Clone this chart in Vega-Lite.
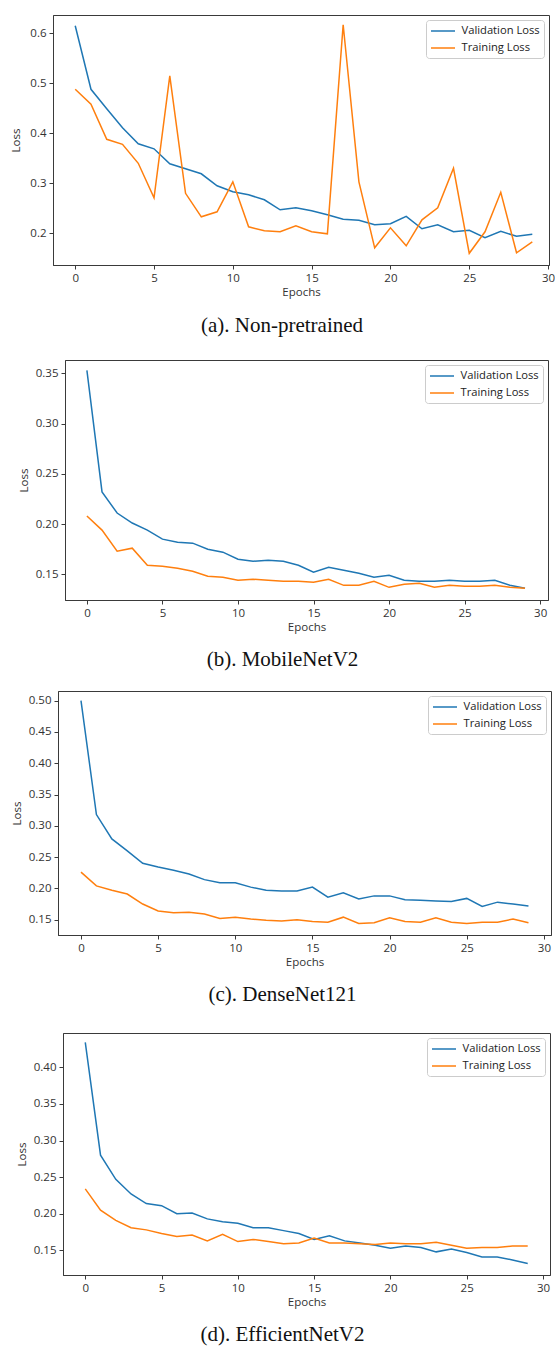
{
  "$schema": "https://vega.github.io/schema/vega-lite/v6.json",
  "padding": {"left": 0, "top": 14, "right": 0, "bottom": 0},
  "background": "white",
  "config": {
    "font": "Open Sans",
    "view": {"stroke": "#3a3a3a", "strokeWidth": 1},
    "axis": {"grid": false, "labelFlush": false, "domainColor": "#3a3a3a", "tickColor": "#3a3a3a", "tickSize": 4, "labelPadding": 3, "labelFont": "Open Sans", "labelFontSize": 11.5, "labelColor": "#333", "titleFont": "Open Sans", "titleFontSize": 11.5, "titleFontWeight": "normal", "titleColor": "#333"},
    "axisX": {"titlePadding": 3},
    "axisY": {"titlePadding": 5},
    "legend": {"orient": "top-right", "offset": 5, "padding": 4, "strokeColor": "#cccccc", "fillColor": "rgba(255,255,255,0.8)", "cornerRadius": 3, "symbolType": "M-1,0L3,0", "symbolSize": 144, "symbolStrokeWidth": 2, "labelFont": "Open Sans", "labelFontSize": 11.2, "labelColor": "#222", "labelOffset": 17.5, "rowPadding": 4},
    "title": {"font": "Liberation Serif", "fontSize": 21, "fontWeight": "normal", "color": "#111", "orient": "bottom", "anchor": "middle", "offset": 16},
    "line": {"strokeWidth": 1.5, "clip": true}
  },
  "datasets": {
    "a": [
      {"epoch":0,"series":"Validation Loss","loss":0.615},{"epoch":1,"series":"Validation Loss","loss":0.488},{"epoch":2,"series":"Validation Loss","loss":0.449},{"epoch":3,"series":"Validation Loss","loss":0.411},{"epoch":4,"series":"Validation Loss","loss":0.379},{"epoch":5,"series":"Validation Loss","loss":0.369},{"epoch":6,"series":"Validation Loss","loss":0.339},{"epoch":7,"series":"Validation Loss","loss":0.329},{"epoch":8,"series":"Validation Loss","loss":0.319},{"epoch":9,"series":"Validation Loss","loss":0.295},{"epoch":10,"series":"Validation Loss","loss":0.283},{"epoch":11,"series":"Validation Loss","loss":0.277},{"epoch":12,"series":"Validation Loss","loss":0.267},{"epoch":13,"series":"Validation Loss","loss":0.247},{"epoch":14,"series":"Validation Loss","loss":0.251},{"epoch":15,"series":"Validation Loss","loss":0.245},{"epoch":16,"series":"Validation Loss","loss":0.237},{"epoch":17,"series":"Validation Loss","loss":0.228},{"epoch":18,"series":"Validation Loss","loss":0.226},{"epoch":19,"series":"Validation Loss","loss":0.217},{"epoch":20,"series":"Validation Loss","loss":0.219},{"epoch":21,"series":"Validation Loss","loss":0.234},{"epoch":22,"series":"Validation Loss","loss":0.209},{"epoch":23,"series":"Validation Loss","loss":0.217},{"epoch":24,"series":"Validation Loss","loss":0.203},{"epoch":25,"series":"Validation Loss","loss":0.206},{"epoch":26,"series":"Validation Loss","loss":0.191},{"epoch":27,"series":"Validation Loss","loss":0.204},{"epoch":28,"series":"Validation Loss","loss":0.194},{"epoch":29,"series":"Validation Loss","loss":0.198},
      {"epoch":0,"series":"Training Loss","loss":0.488},{"epoch":1,"series":"Training Loss","loss":0.458},{"epoch":2,"series":"Training Loss","loss":0.388},{"epoch":3,"series":"Training Loss","loss":0.378},{"epoch":4,"series":"Training Loss","loss":0.34},{"epoch":5,"series":"Training Loss","loss":0.271},{"epoch":6,"series":"Training Loss","loss":0.515},{"epoch":7,"series":"Training Loss","loss":0.28},{"epoch":8,"series":"Training Loss","loss":0.233},{"epoch":9,"series":"Training Loss","loss":0.243},{"epoch":10,"series":"Training Loss","loss":0.303},{"epoch":11,"series":"Training Loss","loss":0.213},{"epoch":12,"series":"Training Loss","loss":0.205},{"epoch":13,"series":"Training Loss","loss":0.203},{"epoch":14,"series":"Training Loss","loss":0.215},{"epoch":15,"series":"Training Loss","loss":0.203},{"epoch":16,"series":"Training Loss","loss":0.199},{"epoch":17,"series":"Training Loss","loss":0.617},{"epoch":18,"series":"Training Loss","loss":0.303},{"epoch":19,"series":"Training Loss","loss":0.171},{"epoch":20,"series":"Training Loss","loss":0.211},{"epoch":21,"series":"Training Loss","loss":0.175},{"epoch":22,"series":"Training Loss","loss":0.227},{"epoch":23,"series":"Training Loss","loss":0.251},{"epoch":24,"series":"Training Loss","loss":0.33},{"epoch":25,"series":"Training Loss","loss":0.16},{"epoch":26,"series":"Training Loss","loss":0.203},{"epoch":27,"series":"Training Loss","loss":0.282},{"epoch":28,"series":"Training Loss","loss":0.161},{"epoch":29,"series":"Training Loss","loss":0.183}
    ],
    "b": [
      {"epoch":0,"series":"Validation Loss","loss":0.353},{"epoch":1,"series":"Validation Loss","loss":0.232},{"epoch":2,"series":"Validation Loss","loss":0.211},{"epoch":3,"series":"Validation Loss","loss":0.201},{"epoch":4,"series":"Validation Loss","loss":0.194},{"epoch":5,"series":"Validation Loss","loss":0.185},{"epoch":6,"series":"Validation Loss","loss":0.182},{"epoch":7,"series":"Validation Loss","loss":0.181},{"epoch":8,"series":"Validation Loss","loss":0.175},{"epoch":9,"series":"Validation Loss","loss":0.172},{"epoch":10,"series":"Validation Loss","loss":0.165},{"epoch":11,"series":"Validation Loss","loss":0.163},{"epoch":12,"series":"Validation Loss","loss":0.164},{"epoch":13,"series":"Validation Loss","loss":0.163},{"epoch":14,"series":"Validation Loss","loss":0.159},{"epoch":15,"series":"Validation Loss","loss":0.152},{"epoch":16,"series":"Validation Loss","loss":0.157},{"epoch":17,"series":"Validation Loss","loss":0.154},{"epoch":18,"series":"Validation Loss","loss":0.151},{"epoch":19,"series":"Validation Loss","loss":0.147},{"epoch":20,"series":"Validation Loss","loss":0.149},{"epoch":21,"series":"Validation Loss","loss":0.144},{"epoch":22,"series":"Validation Loss","loss":0.143},{"epoch":23,"series":"Validation Loss","loss":0.143},{"epoch":24,"series":"Validation Loss","loss":0.144},{"epoch":25,"series":"Validation Loss","loss":0.143},{"epoch":26,"series":"Validation Loss","loss":0.143},{"epoch":27,"series":"Validation Loss","loss":0.144},{"epoch":28,"series":"Validation Loss","loss":0.139},{"epoch":29,"series":"Validation Loss","loss":0.136},
      {"epoch":0,"series":"Training Loss","loss":0.208},{"epoch":1,"series":"Training Loss","loss":0.194},{"epoch":2,"series":"Training Loss","loss":0.173},{"epoch":3,"series":"Training Loss","loss":0.176},{"epoch":4,"series":"Training Loss","loss":0.159},{"epoch":5,"series":"Training Loss","loss":0.158},{"epoch":6,"series":"Training Loss","loss":0.156},{"epoch":7,"series":"Training Loss","loss":0.153},{"epoch":8,"series":"Training Loss","loss":0.148},{"epoch":9,"series":"Training Loss","loss":0.147},{"epoch":10,"series":"Training Loss","loss":0.144},{"epoch":11,"series":"Training Loss","loss":0.145},{"epoch":12,"series":"Training Loss","loss":0.144},{"epoch":13,"series":"Training Loss","loss":0.143},{"epoch":14,"series":"Training Loss","loss":0.143},{"epoch":15,"series":"Training Loss","loss":0.142},{"epoch":16,"series":"Training Loss","loss":0.145},{"epoch":17,"series":"Training Loss","loss":0.139},{"epoch":18,"series":"Training Loss","loss":0.139},{"epoch":19,"series":"Training Loss","loss":0.143},{"epoch":20,"series":"Training Loss","loss":0.137},{"epoch":21,"series":"Training Loss","loss":0.14},{"epoch":22,"series":"Training Loss","loss":0.141},{"epoch":23,"series":"Training Loss","loss":0.137},{"epoch":24,"series":"Training Loss","loss":0.139},{"epoch":25,"series":"Training Loss","loss":0.138},{"epoch":26,"series":"Training Loss","loss":0.138},{"epoch":27,"series":"Training Loss","loss":0.139},{"epoch":28,"series":"Training Loss","loss":0.137},{"epoch":29,"series":"Training Loss","loss":0.136}
    ],
    "c": [
      {"epoch":0,"series":"Validation Loss","loss":0.5},{"epoch":1,"series":"Validation Loss","loss":0.318},{"epoch":2,"series":"Validation Loss","loss":0.279},{"epoch":3,"series":"Validation Loss","loss":0.26},{"epoch":4,"series":"Validation Loss","loss":0.24},{"epoch":5,"series":"Validation Loss","loss":0.234},{"epoch":6,"series":"Validation Loss","loss":0.229},{"epoch":7,"series":"Validation Loss","loss":0.223},{"epoch":8,"series":"Validation Loss","loss":0.214},{"epoch":9,"series":"Validation Loss","loss":0.209},{"epoch":10,"series":"Validation Loss","loss":0.209},{"epoch":11,"series":"Validation Loss","loss":0.202},{"epoch":12,"series":"Validation Loss","loss":0.197},{"epoch":13,"series":"Validation Loss","loss":0.196},{"epoch":14,"series":"Validation Loss","loss":0.196},{"epoch":15,"series":"Validation Loss","loss":0.202},{"epoch":16,"series":"Validation Loss","loss":0.186},{"epoch":17,"series":"Validation Loss","loss":0.193},{"epoch":18,"series":"Validation Loss","loss":0.183},{"epoch":19,"series":"Validation Loss","loss":0.188},{"epoch":20,"series":"Validation Loss","loss":0.188},{"epoch":21,"series":"Validation Loss","loss":0.182},{"epoch":22,"series":"Validation Loss","loss":0.181},{"epoch":23,"series":"Validation Loss","loss":0.18},{"epoch":24,"series":"Validation Loss","loss":0.179},{"epoch":25,"series":"Validation Loss","loss":0.184},{"epoch":26,"series":"Validation Loss","loss":0.171},{"epoch":27,"series":"Validation Loss","loss":0.178},{"epoch":28,"series":"Validation Loss","loss":0.175},{"epoch":29,"series":"Validation Loss","loss":0.172},
      {"epoch":0,"series":"Training Loss","loss":0.226},{"epoch":1,"series":"Training Loss","loss":0.204},{"epoch":2,"series":"Training Loss","loss":0.197},{"epoch":3,"series":"Training Loss","loss":0.191},{"epoch":4,"series":"Training Loss","loss":0.175},{"epoch":5,"series":"Training Loss","loss":0.164},{"epoch":6,"series":"Training Loss","loss":0.161},{"epoch":7,"series":"Training Loss","loss":0.162},{"epoch":8,"series":"Training Loss","loss":0.159},{"epoch":9,"series":"Training Loss","loss":0.152},{"epoch":10,"series":"Training Loss","loss":0.154},{"epoch":11,"series":"Training Loss","loss":0.151},{"epoch":12,"series":"Training Loss","loss":0.149},{"epoch":13,"series":"Training Loss","loss":0.148},{"epoch":14,"series":"Training Loss","loss":0.15},{"epoch":15,"series":"Training Loss","loss":0.147},{"epoch":16,"series":"Training Loss","loss":0.146},{"epoch":17,"series":"Training Loss","loss":0.154},{"epoch":18,"series":"Training Loss","loss":0.144},{"epoch":19,"series":"Training Loss","loss":0.145},{"epoch":20,"series":"Training Loss","loss":0.153},{"epoch":21,"series":"Training Loss","loss":0.147},{"epoch":22,"series":"Training Loss","loss":0.146},{"epoch":23,"series":"Training Loss","loss":0.153},{"epoch":24,"series":"Training Loss","loss":0.146},{"epoch":25,"series":"Training Loss","loss":0.144},{"epoch":26,"series":"Training Loss","loss":0.146},{"epoch":27,"series":"Training Loss","loss":0.146},{"epoch":28,"series":"Training Loss","loss":0.151},{"epoch":29,"series":"Training Loss","loss":0.145}
    ],
    "d": [
      {"epoch":0,"series":"Validation Loss","loss":0.434},{"epoch":1,"series":"Validation Loss","loss":0.28},{"epoch":2,"series":"Validation Loss","loss":0.247},{"epoch":3,"series":"Validation Loss","loss":0.227},{"epoch":4,"series":"Validation Loss","loss":0.214},{"epoch":5,"series":"Validation Loss","loss":0.211},{"epoch":6,"series":"Validation Loss","loss":0.2},{"epoch":7,"series":"Validation Loss","loss":0.201},{"epoch":8,"series":"Validation Loss","loss":0.193},{"epoch":9,"series":"Validation Loss","loss":0.189},{"epoch":10,"series":"Validation Loss","loss":0.187},{"epoch":11,"series":"Validation Loss","loss":0.181},{"epoch":12,"series":"Validation Loss","loss":0.181},{"epoch":13,"series":"Validation Loss","loss":0.177},{"epoch":14,"series":"Validation Loss","loss":0.173},{"epoch":15,"series":"Validation Loss","loss":0.165},{"epoch":16,"series":"Validation Loss","loss":0.17},{"epoch":17,"series":"Validation Loss","loss":0.163},{"epoch":18,"series":"Validation Loss","loss":0.16},{"epoch":19,"series":"Validation Loss","loss":0.157},{"epoch":20,"series":"Validation Loss","loss":0.153},{"epoch":21,"series":"Validation Loss","loss":0.156},{"epoch":22,"series":"Validation Loss","loss":0.154},{"epoch":23,"series":"Validation Loss","loss":0.148},{"epoch":24,"series":"Validation Loss","loss":0.152},{"epoch":25,"series":"Validation Loss","loss":0.147},{"epoch":26,"series":"Validation Loss","loss":0.141},{"epoch":27,"series":"Validation Loss","loss":0.141},{"epoch":28,"series":"Validation Loss","loss":0.137},{"epoch":29,"series":"Validation Loss","loss":0.132},
      {"epoch":0,"series":"Training Loss","loss":0.234},{"epoch":1,"series":"Training Loss","loss":0.205},{"epoch":2,"series":"Training Loss","loss":0.191},{"epoch":3,"series":"Training Loss","loss":0.181},{"epoch":4,"series":"Training Loss","loss":0.178},{"epoch":5,"series":"Training Loss","loss":0.173},{"epoch":6,"series":"Training Loss","loss":0.169},{"epoch":7,"series":"Training Loss","loss":0.171},{"epoch":8,"series":"Training Loss","loss":0.163},{"epoch":9,"series":"Training Loss","loss":0.172},{"epoch":10,"series":"Training Loss","loss":0.162},{"epoch":11,"series":"Training Loss","loss":0.165},{"epoch":12,"series":"Training Loss","loss":0.162},{"epoch":13,"series":"Training Loss","loss":0.159},{"epoch":14,"series":"Training Loss","loss":0.16},{"epoch":15,"series":"Training Loss","loss":0.167},{"epoch":16,"series":"Training Loss","loss":0.16},{"epoch":17,"series":"Training Loss","loss":0.16},{"epoch":18,"series":"Training Loss","loss":0.159},{"epoch":19,"series":"Training Loss","loss":0.158},{"epoch":20,"series":"Training Loss","loss":0.16},{"epoch":21,"series":"Training Loss","loss":0.159},{"epoch":22,"series":"Training Loss","loss":0.159},{"epoch":23,"series":"Training Loss","loss":0.161},{"epoch":24,"series":"Training Loss","loss":0.157},{"epoch":25,"series":"Training Loss","loss":0.153},{"epoch":26,"series":"Training Loss","loss":0.154},{"epoch":27,"series":"Training Loss","loss":0.154},{"epoch":28,"series":"Training Loss","loss":0.156},{"epoch":29,"series":"Training Loss","loss":0.156}
    ]
  },
  "spacing": 22,
  "resolve": {"scale": {"color": "independent"}, "legend": {"color": "independent"}},
  "vconcat": [
    {
      "spacing": 0,
      "resolve": {"scale": {"color": "independent"}, "legend": {"color": "independent"}},
      "hconcat": [
        {"width": 9, "height": 10, "data": {"values": []}, "mark": {"type": "point", "opacity": 0}, "view": {"stroke": null}},
        {
          "width": 496, "height": 250,
          "data": {"name": "a"},
          "title": {"text": "(a). Non-pretrained", "offset": 17, "dx": -19},
          "mark": {"type": "line"},
          "encoding": {
            "x": {"field": "epoch", "type": "quantitative", "scale": {"domain": [-1.41, 30.06], "nice": false, "zero": false}, "axis": {"values": [0,5,10,15,20,25,30], "title": "Epochs"}},
            "y": {"field": "loss", "type": "quantitative", "scale": {"domain": [0.1366, 0.6366], "nice": false, "zero": false}, "axis": {"values": [0.2,0.3,0.4,0.5,0.6], "format": ".1f", "title": "Loss", "minExtent": 27, "maxExtent": 27}},
            "color": {"field": "series", "type": "nominal", "scale": {"domain": ["Validation Loss", "Training Loss"], "range": ["#1f77b4", "#ff7f0e"]}, "legend": {"title": null}}
          }
        }
      ]
    },
    {
      "spacing": 19,
      "resolve": {"scale": {"color": "independent"}, "legend": {"color": "independent"}},
      "vconcat": [
        {
          "spacing": 0,
          "resolve": {"scale": {"color": "independent"}, "legend": {"color": "independent"}},
          "hconcat": [
            {"width": 17, "height": 10, "data": {"values": []}, "mark": {"type": "point", "opacity": 0}, "view": {"stroke": null}},
            {
              "width": 483, "height": 240,
              "data": {"name": "b"},
              "title": {"text": "(b). MobileNetV2", "dx": -24},
              "mark": {"type": "line"},
              "encoding": {
                "x": {"field": "epoch", "type": "quantitative", "scale": {"domain": [-1.45, 30.52], "nice": false, "zero": false}, "axis": {"values": [0,5,10,15,20,25,30], "title": "Epochs"}},
                "y": {"field": "loss", "type": "quantitative", "scale": {"domain": [0.1244, 0.3633], "nice": false, "zero": false}, "axis": {"values": [0.15,0.2,0.25,0.3,0.35], "format": ".2f", "title": "Loss", "minExtent": 31, "maxExtent": 31}},
                "color": {"field": "series", "type": "nominal", "scale": {"domain": ["Validation Loss", "Training Loss"], "range": ["#1f77b4", "#ff7f0e"]}, "legend": {"title": null}}
              }
            }
          ]
        },
        {
          "spacing": 26,
          "resolve": {"scale": {"color": "independent"}, "legend": {"color": "independent"}},
          "vconcat": [
            {
              "spacing": 0,
              "resolve": {"scale": {"color": "independent"}, "legend": {"color": "independent"}},
              "hconcat": [
                {"width": 10, "height": 10, "data": {"values": []}, "mark": {"type": "point", "opacity": 0}, "view": {"stroke": null}},
                {
                  "width": 493, "height": 244,
                  "data": {"name": "c"},
                  "title": {"text": "(c). DenseNet121", "dx": -22},
                  "mark": {"type": "line"},
                  "encoding": {
                    "x": {"field": "epoch", "type": "quantitative", "scale": {"domain": [-1.49, 30.46], "nice": false, "zero": false}, "axis": {"values": [0,5,10,15,20,25,30], "title": "Epochs"}},
                    "y": {"field": "loss", "type": "quantitative", "scale": {"domain": [0.1255, 0.5154], "nice": false, "zero": false}, "axis": {"values": [0.15,0.2,0.25,0.3,0.35,0.4,0.45,0.5], "format": ".2f", "title": "Loss", "minExtent": 31, "maxExtent": 31}},
                    "color": {"field": "series", "type": "nominal", "scale": {"domain": ["Validation Loss", "Training Loss"], "range": ["#1f77b4", "#ff7f0e"]}, "legend": {"title": null}}
                  }
                }
              ]
            },
            {
              "spacing": 0,
              "resolve": {"scale": {"color": "independent"}, "legend": {"color": "independent"}},
              "hconcat": [
                {"width": 15, "height": 10, "data": {"values": []}, "mark": {"type": "point", "opacity": 0}, "view": {"stroke": null}},
                {
                  "width": 487, "height": 242,
                  "data": {"name": "d"},
                  "title": {"text": "(d). EfficientNetV2", "dx": -24},
                  "mark": {"type": "line"},
                  "encoding": {
                    "x": {"field": "epoch", "type": "quantitative", "scale": {"domain": [-1.46, 30.46], "nice": false, "zero": false}, "axis": {"values": [0,5,10,15,20,25,30], "title": "Epochs"}},
                    "y": {"field": "loss", "type": "quantitative", "scale": {"domain": [0.1164, 0.4468], "nice": false, "zero": false}, "axis": {"values": [0.15,0.2,0.25,0.3,0.35,0.4], "format": ".2f", "title": "Loss", "minExtent": 31, "maxExtent": 31}},
                    "color": {"field": "series", "type": "nominal", "scale": {"domain": ["Validation Loss", "Training Loss"], "range": ["#1f77b4", "#ff7f0e"]}, "legend": {"title": null}}
                  }
                }
              ]
            }
          ]
        }
      ]
    }
  ]
}
